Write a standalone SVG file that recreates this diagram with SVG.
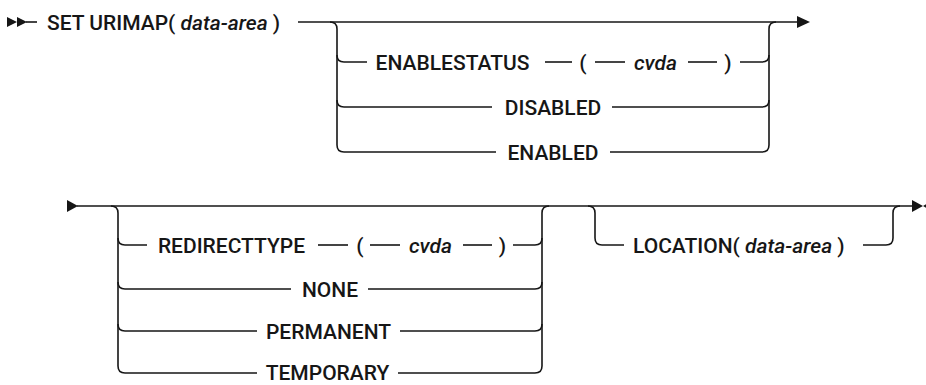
<svg xmlns="http://www.w3.org/2000/svg" width="926" height="385" viewBox="0 0 926 385">
<style>
  .ln { fill: none; stroke: #161616; stroke-width: 1.6; }
  .ah { fill: #161616; stroke: none; }
  text { font-family: Roboto, "Liberation Sans", sans-serif; font-size: 21px; font-weight: 500; fill: #161616; }
  .m { text-anchor: middle; }
  .i { font-style: italic; }
</style>
<rect width="926" height="385" fill="#ffffff"/>
<g id="connectors">
  <!-- row 1 start marker -->
  <polygon class="ah" points="7,17 17,22 7,27"/>
  <polygon class="ah" points="17,17 27,22 17,27"/>
  <line class="ln" x1="26" y1="22" x2="37" y2="22"/>
  <!-- row 1 main line -->
  <line class="ln" x1="298" y1="22" x2="798" y2="22"/>
  <polygon class="ah" points="797,16 810,22 797,28"/>
  <!-- group 1 left rail -->
  <path class="ln" d="M330,22 Q337,22 337,29 V145 Q337,152 344,152 H496"/>
  <path class="ln" d="M337,55 Q337,62 344,62 H367"/>
  <path class="ln" d="M337,100 Q337,107 344,107 H492"/>
  <!-- group 1 inner dashes -->
  <line class="ln" x1="545" y1="62" x2="572" y2="62"/>
  <line class="ln" x1="595" y1="62" x2="625" y2="62"/>
  <line class="ln" x1="688" y1="62" x2="717" y2="62"/>
  <!-- group 1 right rail -->
  <path class="ln" d="M740,62 H762 Q769,62 769,55"/>
  <path class="ln" d="M612,107 H762 Q769,107 769,100"/>
  <path class="ln" d="M610,152 H762 Q769,152 769,145 V29 Q769,22 776,22"/>

  <!-- row 2 start -->
  <polygon class="ah" points="67,200 78,206 67,212"/>
  <line class="ln" x1="77" y1="206" x2="913" y2="206"/>
  <polygon class="ah" points="912,200 923,206 912,212"/>
  <polygon class="ah" points="934,200 923,206 934,212"/>
  <!-- group 2 left rail -->
  <path class="ln" d="M111,206 Q118,206 118,213 V366 Q118,373 125,373 H257"/>
  <path class="ln" d="M118,238 Q118,245 125,245 H147"/>
  <path class="ln" d="M118,282 Q118,289 125,289 H291"/>
  <path class="ln" d="M118,324 Q118,331 125,331 H257"/>
  <!-- group 2 inner dashes -->
  <line class="ln" x1="318" y1="245" x2="348" y2="245"/>
  <line class="ln" x1="370" y1="245" x2="400" y2="245"/>
  <line class="ln" x1="463" y1="245" x2="492" y2="245"/>
  <!-- group 2 right rail -->
  <path class="ln" d="M513,245 H535 Q542,245 542,238"/>
  <path class="ln" d="M368,289 H535 Q542,289 542,282"/>
  <path class="ln" d="M400,331 H535 Q542,331 542,324"/>
  <path class="ln" d="M398,373 H535 Q542,373 542,366 V213 Q542,206 549,206"/>
  <!-- location group -->
  <path class="ln" d="M588,206 Q595,206 595,213 V238 Q595,245 602,245 H624"/>
  <path class="ln" d="M863,245 H886 Q893,245 893,238 V213 Q893,206 900,206"/>
</g>
<g id="set-urimap"><text x="47" y="29.5">SET URIMAP( <tspan class="i">data-area</tspan> )</text></g>
<g id="enablestatus">
  <text class="m" x="452.5" y="69.5">ENABLESTATUS</text>
  <text class="m" x="583" y="69.5">(</text>
  <text class="m i" x="655.5" y="69.5">cvda</text>
  <text class="m" x="728" y="69.5">)</text>
</g>
<g id="disabled"><text class="m" x="553" y="114.5">DISABLED</text></g>
<g id="enabled"><text class="m" x="553" y="159.5">ENABLED</text></g>
<g id="redirecttype">
  <text class="m" x="231.5" y="252.5">REDIRECTTYPE</text>
  <text class="m" x="360" y="252.5">(</text>
  <text class="m i" x="430.5" y="252.5">cvda</text>
  <text class="m" x="502.5" y="252.5">)</text>
</g>
<g id="none"><text class="m" x="330" y="296.5">NONE</text></g>
<g id="permanent"><text class="m" x="328.5" y="338.5">PERMANENT</text></g>
<g id="temporary"><text class="m" x="327.5" y="379.5">TEMPORARY</text></g>
<g id="location"><text x="633" y="252.5">LOCATION( <tspan class="i">data-area</tspan> )</text></g>
</svg>
